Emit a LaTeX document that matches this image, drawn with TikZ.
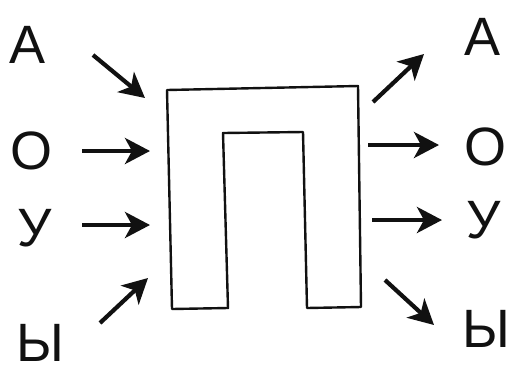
\documentclass[tikz,border=0pt]{standalone}
\usepackage{fontspec}
\setmainfont{Liberation Sans}
\usetikzlibrary{arrows.meta}
\definecolor{ink}{HTML}{111111}

\begin{document}
\begin{tikzpicture}[x=1pt, y=-1pt,
    letter/.style={font=\fontsize{54}{54}\selectfont, text=ink, inner sep=0pt, anchor=base},
    flow/.style={ink, line width=4.2pt, -{Stealth[length=25pt, width=26pt, inset=7pt]}}]
  \useasboundingbox[fill=white] (0,0) rectangle (511,376);
  % letters in
  \node[letter] (inA) at (28,63) {А};
  \node[letter] (inO) at (32,169) {О};
  \node[letter] (inU) at (35,246) {У};
  \node[letter] (inY) at (40,361) {Ы};
  % letters out
  \node[letter] (outA) at (483,55) {А};
  \node[letter] (outO) at (485,165) {О};
  \node[letter] (outU) at (484,238) {У};
  \node[letter] (outY) at (486,347) {Ы};
  % the gate
  \draw[ink, line width=2.4pt, line join=round]
    (172,309) -- (167,90) -- (358,86) -- (361,307) -- (307,308)
    -- (303,132) -- (223,133) -- (228,308) -- cycle;
  % arrow ends
  \coordinate (a1) at (93,55);   \coordinate (a2) at (145,98);
  \coordinate (o1) at (82,151);  \coordinate (o2) at (150,151);
  \coordinate (u1) at (82,225);  \coordinate (u2) at (150,225);
  \coordinate (y1) at (100,323); \coordinate (y2) at (148,278);
  \coordinate (a3) at (373,102); \coordinate (a4) at (424,54);
  \coordinate (o3) at (368,145); \coordinate (o4) at (439,145);
  \coordinate (u3) at (372,220); \coordinate (u4) at (442,220);
  \coordinate (y3) at (385,280); \coordinate (y4) at (434,325);
  \draw[flow] (a1) -- (a2);
  \draw[flow] (o1) -- (o2);
  \draw[flow] (u1) -- (u2);
  \draw[flow] (y1) -- (y2);
  \draw[flow] (a3) -- (a4);
  \draw[flow] (o3) -- (o4);
  \draw[flow] (u3) -- (u4);
  \draw[flow] (y3) -- (y4);
\end{tikzpicture}
\end{document}
